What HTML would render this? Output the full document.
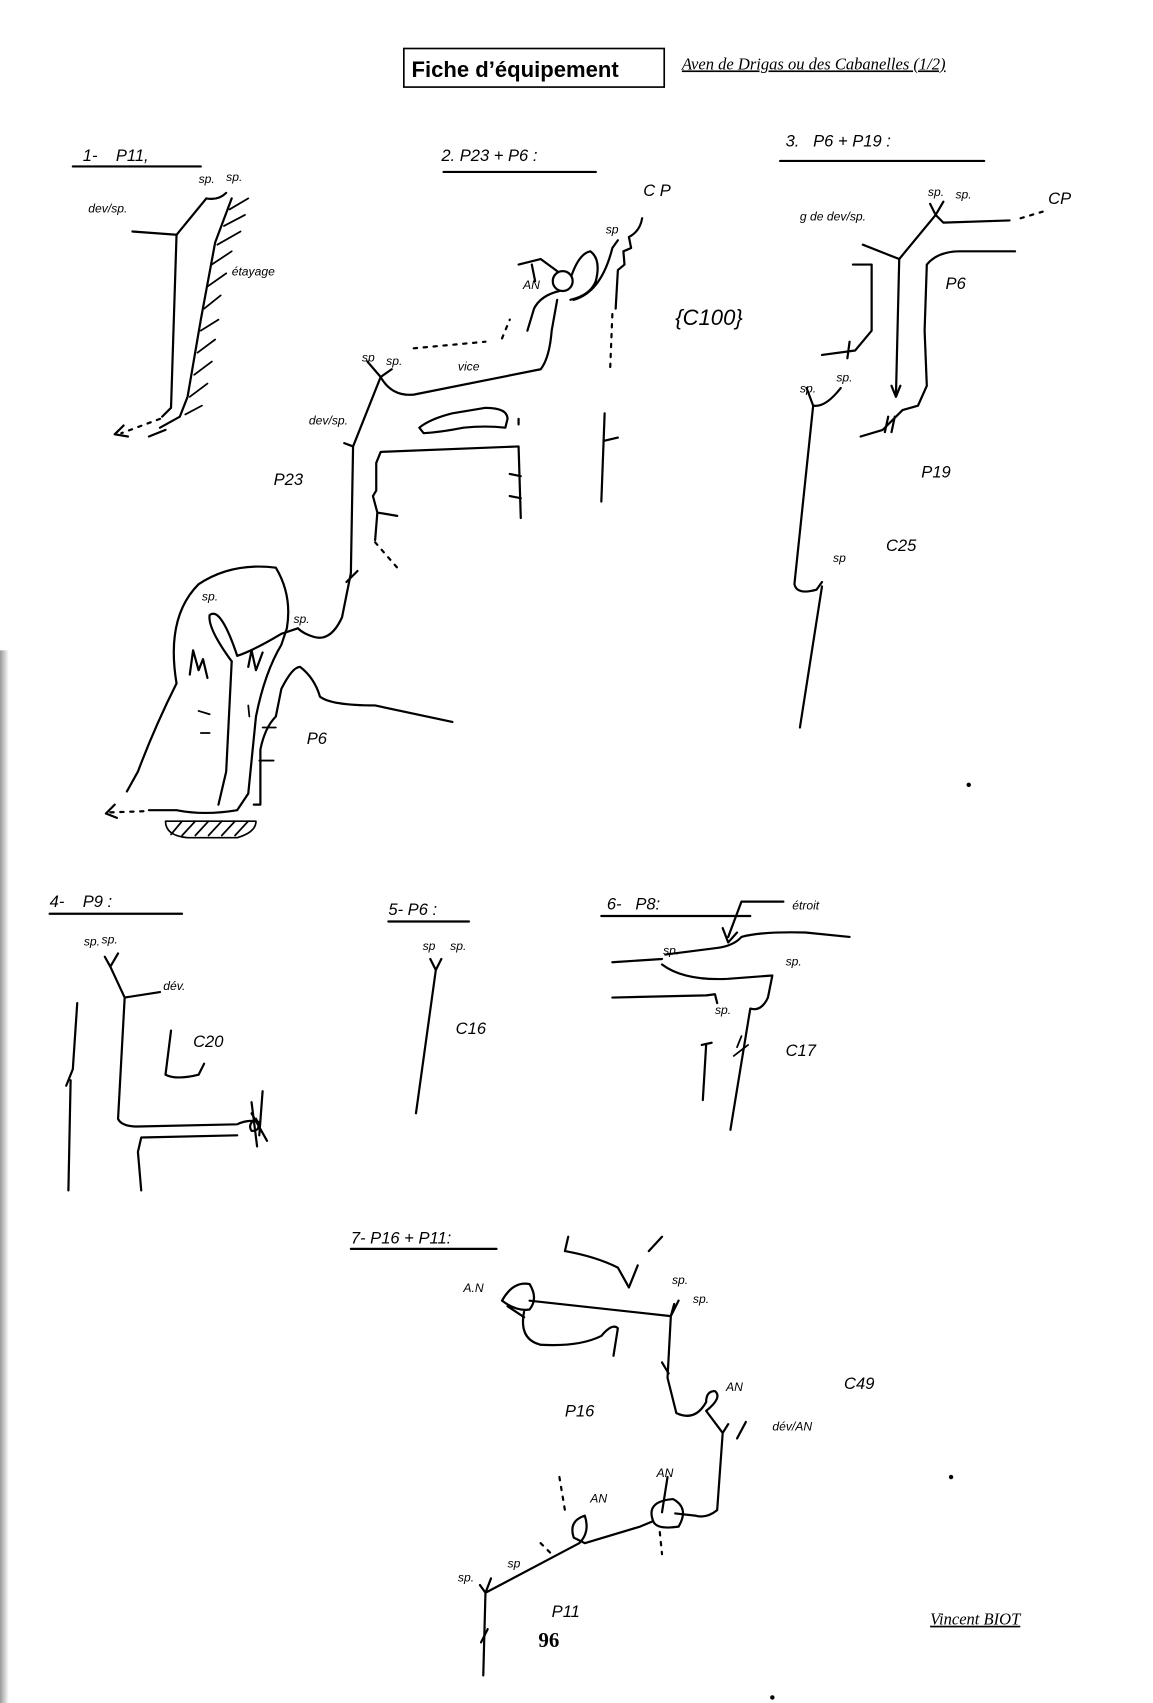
<!DOCTYPE html>
<html><head><meta charset="utf-8"><style>
html,body{margin:0;padding:0;background:#fff}
svg{display:block}
text{font-family:"Liberation Sans",sans-serif;fill:#000}
.h{font-size:15px;font-style:italic}
.s{font-size:11px;font-style:italic}
path,line,ellipse,circle{fill:none;stroke:#000;stroke-width:2;stroke-linecap:round;stroke-linejoin:round}
.t{stroke-width:1.6}
.d{stroke-dasharray:3 6}
</style></head><body>
<svg width="1153" height="1703" viewBox="0 0 1045 1545" preserveAspectRatio="none" xmlns="http://www.w3.org/2000/svg">
<defs><linearGradient id="g" x1="0" x2="1"><stop offset="0" stop-color="#999"/><stop offset="1" stop-color="#fff"/></linearGradient></defs>
<rect x="0" y="590" width="8" height="955" fill="url(#g)"/>
<!-- title -->
<rect x="366" y="44" width="236" height="35" style="fill:none;stroke:#000;stroke-width:1.5"/>
<text x="373" y="70" style="font-size:20px;font-weight:bold">Fiche d’équipement</text>
<text x="618" y="63" style="font-family:'Liberation Serif',serif;font-size:15px;font-style:italic;text-decoration:underline">Aven de Drigas ou des Cabanelles (1/2)</text>
<!-- 1 -->
<text class="h" x="75" y="146">1-&#160;&#160;&#160; P11,</text>
<line x1="66" y1="151" x2="182" y2="151"/>
<text class="s" x="180" y="166">sp.</text><text class="s" x="205" y="164">sp.</text>
<text class="s" x="80" y="193">dev/sp.</text><text class="s" x="210" y="250">étayage</text>
<path d="M120 210 L160 213 L187 180 Q198 182 205 175"/>
<path d="M160 213 L155 370 L147 378"/>
<path class="d" d="M145 380 L110 393"/><path d="M112 386 L104 394 L116 396"/>
<path d="M210 180 L195 220 L182 290 L170 360 L163 378 L145 388 M150 390 L135 396"/>
<path class="t" d="M208 190 L225 180 M203 205 L222 195 M197 222 L218 210 M192 240 L210 228 M188 260 L205 248 M185 280 L200 268 M182 300 L198 290 M179 320 L195 308 M176 340 L192 328 M172 360 L188 348 M168 376 L183 368"/>
<!-- 2 -->
<text class="h" x="400" y="146">2. P23 + P6 :</text>
<line x1="402" y1="156" x2="540" y2="156"/>
<text class="h" x="583" y="178">C P</text>
<text class="s" x="549" y="212">sp</text><text class="s" x="474" y="262">AN</text>
<text class="s" x="328" y="328">sp</text><text class="s" x="350" y="331">sp.</text>
<text class="s" x="415" y="336">vice</text><text class="s" x="280" y="385">dev/sp.</text>
<text class="h" x="248" y="440">P23</text><text class="s" x="183" y="545">sp.</text><text class="s" x="266" y="565">sp.</text>
<text class="h" x="278" y="675">P6</text>
<text class="h" x="612" y="295" style="font-size:20px">{C100}</text>
<path d="M333 328 L345 342 L355 335 M345 342 L320 405 L312 402 M320 405 L318 520 L310 560 Q300 582 285 578 Q275 575 270 570"/>
<path d="M314 528 L324 518"/>
<path d="M345 342 Q355 360 375 358 L490 335 Q498 325 500 300 L505 272"/>
<circle cx="510" cy="255" r="9"/>
<path d="M470 240 L490 235 L505 246 M482 240 L485 255 M507 264 Q490 268 484 280 L478 300"/>
<path class="d" d="M455 307 L462 290 M375 316 L440 310"/>
<path d="M518 250 Q525 230 535 228 Q545 235 540 255 Q535 268 517 272 M520 272 Q545 265 555 225 L560 218"/>
<path d="M582 198 Q580 210 570 215 L572 225 L565 228 L566 240 L560 245 L558 280"/>
<path class="d" d="M555 285 L553 335"/>
<path d="M548 375 L545 455 M547 400 L560 397"/>
<path d="M380 388 Q390 380 410 375 L440 370 Q460 370 460 380 L458 388 Q440 386 420 388 Q400 392 384 393 Z"/>
<path d="M470 380 L470 385"/>
<path d="M341 420 L345 410 L470 405 L472 470 M462 430 L472 432 M462 450 L472 452 M341 420 L341 445 L338 450 L342 465 L360 468 M342 465 L340 490"/>
<path class="d" d="M340 492 L360 515"/>
<path d="M160 620 Q150 560 180 530 Q210 510 250 515 Q265 540 260 570 L255 585 Q240 610 232 650 L225 720 L215 735 Q185 740 160 735 L135 735"/>
<path d="M160 620 Q140 660 125 700 L115 718"/>
<path class="d" d="M130 736 L100 737"/><path d="M104 730 L96 738 L106 742"/>
<path d="M210 600 Q188 570 190 558 Q200 550 215 595 Q230 590 255 575 L270 570"/>
<path d="M210 600 L205 700 L198 730"/>
<path d="M172 612 L175 590 L180 608 L184 598 L188 615 M225 605 L228 590 L232 608 L238 592"/>
<path d="M230 730 L236 730 L236 680 Q240 660 250 650 L255 625 Q265 605 272 605 Q285 615 290 632 Q300 640 340 640 L410 655"/>
<path class="t" d="M238 660 L250 660 M235 690 L248 690 M180 645 L190 648 M182 665 L190 665 M225 640 L226 650"/>
<path d="M150 745 Q150 758 170 760 L215 760 Q232 755 232 745 Z" style="stroke-width:1.5"/>
<path class="t" d="M155 757 L165 745 M165 758 L177 745 M177 758 L189 745 M189 758 L201 745 M201 758 L213 745 M213 758 L225 745"/>
<!-- 3 -->
<text class="h" x="712" y="133">3.&#160;&#160; P6 + P19 :</text>
<line x1="707" y1="146" x2="892" y2="146"/>
<text class="s" x="725" y="200">g de dev/sp.</text><text class="s" x="841" y="178">sp.</text><text class="s" x="866" y="180">sp.</text>
<text class="h" x="950" y="185">CP</text><text class="h" x="857" y="262">P6</text>
<text class="s" x="758" y="346">sp.</text><text class="s" x="725" y="356">sp.</text>
<text class="h" x="835" y="433">P19</text><text class="s" x="755" y="510">sp</text><text class="h" x="803" y="500">C25</text>
<path d="M843 185 L848 195 L855 183 M848 195 L815 235 L782 222 M848 195 L855 202 L915 200"/>
<path class="d" d="M925 198 L945 192"/>
<path d="M815 235 L812 360 M808 350 L812 360 L816 350"/>
<path d="M773 240 L790 240 L790 300 L775 318 L745 322 M770 310 L768 325"/>
<path d="M840 240 Q850 228 870 228 L920 228 M840 240 L838 300 L840 350 L832 368 L818 372 L800 390 L780 396 M805 378 L802 392 M811 378 L808 392"/>
<path d="M731 352 L737 368 L720 530 Q722 540 740 535 L745 528 M745 532 L725 660"/>
<path d="M737 368 Q748 370 762 352"/>
<!-- 4 -->
<text class="h" x="45" y="823">4-&#160;&#160;&#160; P9 :</text>
<line x1="45" y1="829" x2="165" y2="829"/>
<text class="s" x="76" y="858">sp.</text><text class="s" x="92" y="856">sp.</text><text class="s" x="148" y="898">dév.</text>
<text class="h" x="175" y="950">C20</text>
<path d="M95 868 L100 877 L107 865 M100 877 L113 905 L145 900 M113 905 L107 1015 Q110 1022 125 1022 L215 1020 Q225 1015 235 1018"/>
<path d="M232 1015 Q224 1020 228 1026 Q238 1026 232 1015 M228 1000 L233 1040 M238 990 L235 1030 M242 1035 L228 1010"/>
<path d="M215 1030 L128 1032 L125 1045 L128 1080"/>
<path d="M70 910 L66 970 L60 985 M64 980 L62 1080"/>
<path d="M155 935 L150 975 Q160 980 180 975 L185 965"/>
<!-- 5 -->
<text class="h" x="352" y="830">5- P6 :</text>
<line x1="352" y1="836" x2="425" y2="836"/>
<text class="s" x="383" y="862">sp</text><text class="s" x="408" y="862">sp.</text>
<text class="h" x="413" y="938">C16</text>
<path d="M390 870 L395 880 L400 870 M395 880 L377 1010"/>
<!-- 6 -->
<text class="h" x="550" y="825">6-&#160;&#160; P8:</text>
<line x1="545" y1="831" x2="680" y2="831"/>
<text class="s" x="718" y="825">étroit</text><text class="s" x="601" y="866">sp.</text><text class="s" x="712" y="876">sp.</text>
<text class="s" x="648" y="920">sp.</text><text class="h" x="712" y="958">C17</text>
<path d="M710 818 L672 818 L660 850 M655 842 L660 855 L668 846"/>
<path d="M555 873 L600 870 M603 866 L650 860 Q665 858 672 850 Q690 845 730 846 L770 850"/>
<path d="M600 875 Q620 890 660 888 L700 885 L696 905 Q690 918 680 915 L662 1025"/>
<path class="t" d="M668 950 L672 940 M665 958 L678 948"/>
<path d="M555 905 L640 903 L648 902 L650 910"/>
<path d="M640 948 L637 998 M636 948 L645 946"/>
<!-- 7 -->
<text class="h" x="318" y="1128">7- P16 + P11:</text>
<line x1="318" y1="1133" x2="450" y2="1133"/>
<text class="s" x="420" y="1172">A.N</text><text class="s" x="609" y="1165">sp.</text><text class="s" x="628" y="1182">sp.</text>
<text class="s" x="658" y="1262">AN</text><text class="h" x="765" y="1260">C49</text><text class="s" x="700" y="1298">dév/AN</text>
<text class="h" x="512" y="1285">P16</text><text class="s" x="595" y="1340">AN</text><text class="s" x="535" y="1363">AN</text>
<text class="s" x="460" y="1422">sp</text><text class="s" x="415" y="1435">sp.</text><text class="h" x="500" y="1467">P11</text>
<text x="488" y="1494" style="font-family:'Liberation Serif',serif;font-size:19px;font-weight:bold">96</text>
<text x="843" y="1474" style="font-family:'Liberation Serif',serif;font-size:15px;font-style:italic;text-decoration:underline">Vincent BIOT</text>
<path d="M515 1122 L512 1135 Q540 1140 560 1150 L570 1168 L578 1148 M588 1135 L600 1122"/>
<path d="M455 1180 Q465 1162 480 1165 Q488 1178 480 1188 Q468 1190 455 1180 M460 1185 L475 1195"/>
<path d="M480 1180 L608 1194 L611 1183 M608 1194 L615 1180 M608 1194 L605 1250 L613 1282 Q630 1290 640 1272 Q640 1262 648 1262 Q655 1268 640 1280 L655 1300 L660 1292 M655 1300 L650 1370 Q640 1378 630 1375 L612 1373"/>
<path d="M600 1236 L606 1246 M676 1290 L668 1305"/>
<path d="M475 1190 Q470 1215 490 1220 Q525 1222 545 1212 Q555 1200 560 1205 L556 1230"/>
<path d="M592 1380 Q585 1362 610 1360 Q625 1368 615 1385 Q595 1388 592 1380 Z M600 1372 L605 1340"/>
<path d="M592 1380 L580 1385 L530 1400 L520 1395 Q515 1380 530 1375 Q535 1390 525 1400 L440 1445 L435 1438 M440 1445 L445 1432 M440 1445 L438 1520"/>
<path class="d" d="M507 1340 L512 1370 M490 1400 L500 1410 M598 1390 L600 1410"/>
<path d="M436 1490 L442 1478"/>
<circle cx="878" cy="712" r="1"/><circle cx="862" cy="1340" r="1"/><circle cx="700" cy="1540" r="1"/>
</svg>
</body></html>
